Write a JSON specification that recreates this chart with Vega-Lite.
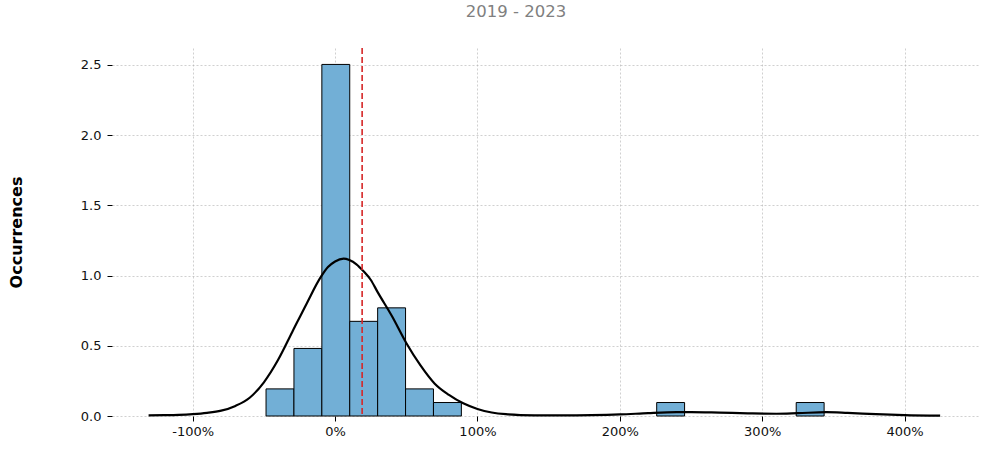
{
  "$schema": "https://vega.github.io/schema/vega-lite/v6.json",
  "width": 868,
  "height": 368,
  "autosize": "none",
  "padding": {"left": 112, "top": 48, "right": 14, "bottom": 39},
  "background": "white",
  "config": {
    "font": "DejaVu Sans",
    "view": {"stroke": null},
    "axis": {
      "domain": false,
      "grid": true,
      "gridColor": "#b0b0b0",
      "gridDash": [2, 2],
      "gridWidth": 0.6,
      "tickColor": "black",
      "tickSize": 5,
      "tickWidth": 1,
      "labelColor": "#111",
      "labelFontSize": 13,
      "labelFont": "DejaVu Sans"
    }
  },
  "title": {
    "text": "Distribution of Monthly Returns",
    "subtitle": "2019 - 2023",
    "fontSize": 20,
    "fontWeight": "bold",
    "color": "black",
    "subtitleFontSize": 16.5,
    "subtitleColor": "#808080",
    "subtitlePadding": 4,
    "anchor": "middle",
    "dx": -30,
    "offset": 27
  },
  "datasets": {
    "bins": [
      {"x0": -0.485, "x1": -0.289, "density": 0.193},
      {"x0": -0.289, "x1": -0.093, "density": 0.481},
      {"x0": -0.093, "x1": 0.103, "density": 2.503},
      {"x0": 0.103, "x1": 0.299, "density": 0.674},
      {"x0": 0.299, "x1": 0.495, "density": 0.770},
      {"x0": 0.495, "x1": 0.691, "density": 0.193},
      {"x0": 0.691, "x1": 0.887, "density": 0.096},
      {"x0": 2.259, "x1": 2.455, "density": 0.096},
      {"x0": 3.239, "x1": 3.435, "density": 0.096}
    ],
    "kde": [
      {"x": -1.31, "y": 0.005},
      {"x": -1.2, "y": 0.006},
      {"x": -1.1, "y": 0.008},
      {"x": -1.0, "y": 0.013},
      {"x": -0.9, "y": 0.022},
      {"x": -0.8, "y": 0.038},
      {"x": -0.7, "y": 0.072},
      {"x": -0.6, "y": 0.13},
      {"x": -0.5, "y": 0.24},
      {"x": -0.4, "y": 0.40},
      {"x": -0.3, "y": 0.60},
      {"x": -0.2, "y": 0.80},
      {"x": -0.1, "y": 0.99},
      {"x": -0.05, "y": 1.06},
      {"x": 0.0, "y": 1.10},
      {"x": 0.06, "y": 1.12},
      {"x": 0.1, "y": 1.11},
      {"x": 0.15, "y": 1.08},
      {"x": 0.2, "y": 1.03},
      {"x": 0.25, "y": 0.97},
      {"x": 0.3, "y": 0.88},
      {"x": 0.4, "y": 0.71},
      {"x": 0.5, "y": 0.52},
      {"x": 0.6, "y": 0.36},
      {"x": 0.7, "y": 0.23},
      {"x": 0.8, "y": 0.15},
      {"x": 0.9, "y": 0.09},
      {"x": 1.0, "y": 0.05},
      {"x": 1.1, "y": 0.025},
      {"x": 1.2, "y": 0.013},
      {"x": 1.4, "y": 0.005},
      {"x": 1.6, "y": 0.004},
      {"x": 1.8, "y": 0.006},
      {"x": 2.0, "y": 0.011},
      {"x": 2.2, "y": 0.02},
      {"x": 2.4, "y": 0.027},
      {"x": 2.5, "y": 0.028},
      {"x": 2.7, "y": 0.024},
      {"x": 2.9, "y": 0.019},
      {"x": 3.1, "y": 0.016},
      {"x": 3.25, "y": 0.02},
      {"x": 3.45, "y": 0.027},
      {"x": 3.6, "y": 0.022},
      {"x": 3.8, "y": 0.013},
      {"x": 4.0, "y": 0.006},
      {"x": 4.25, "y": 0.002}
    ],
    "mean": [{"x": 0.19}]
  },
  "layer": [
    {
      "data": {"name": "bins"},
      "mark": {"type": "rect", "color": "#72afd6", "stroke": "black", "strokeWidth": 1},
      "encoding": {
        "x": {
          "field": "x0",
          "type": "quantitative",
          "scale": {"domain": [-1.567, 4.53], "nice": false, "zero": false},
          "axis": {
            "values": [-1, 0, 1, 2, 3, 4],
            "format": ".0%",
            "labelExpr": "replace(datum.label, '\u2212', '-')",
            "title": null,
            "labelPadding": 4
          }
        },
        "x2": {"field": "x1"},
        "y": {
          "field": "density",
          "type": "quantitative",
          "scale": {"domain": [0, 2.62], "nice": false},
          "axis": {
            "values": [0, 0.5, 1, 1.5, 2, 2.5],
            "format": ".1f",
            "title": "Occurrences",
            "titleFontSize": 16,
            "titleFontWeight": "bold",
            "titleColor": "black",
            "titlePadding": 56,
            "labelPadding": 6
          }
        },
        "y2": {"datum": 0}
      }
    },
    {
      "data": {"name": "kde"},
      "mark": {"type": "line", "color": "black", "strokeWidth": 2.2, "interpolate": "monotone"},
      "encoding": {
        "x": {"field": "x", "type": "quantitative"},
        "y": {"field": "y", "type": "quantitative"}
      }
    },
    {
      "data": {"name": "mean"},
      "mark": {"type": "rule", "color": "#d62728", "strokeWidth": 1.6, "strokeDash": [6, 3]},
      "encoding": {
        "x": {"field": "x", "type": "quantitative"}
      }
    }
  ]
}
